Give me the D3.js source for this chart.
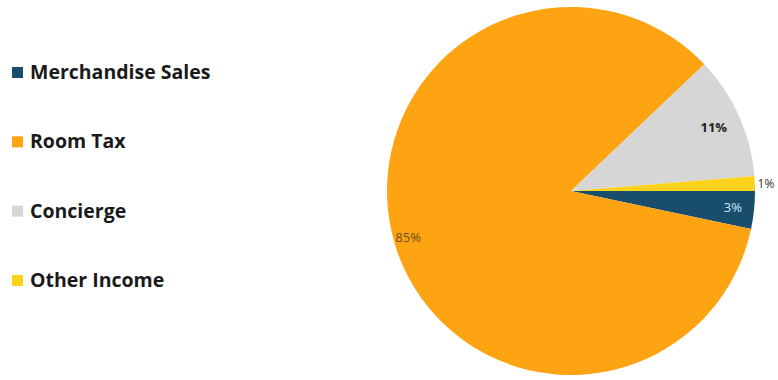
<!DOCTYPE html>
<html>
<head>
<meta charset="utf-8">
<script src="https://cdn.jsdelivr.net/npm/d3@7"></script>
<style>
  body { margin: 0; background: #fff; }
  svg { display: block; }
  text { font-family: "Open Sans", "Liberation Sans", sans-serif; }
</style>
</head>
<body>
<div id="app"></div>
<script>
// data
const categories = ["Merchandise Sales", "Room Tax", "Concierge", "Other Income"];
const values = [3.3, 84.6, 10.8, 1.3];
const colors = ["#184e6c", "#fea412", "#d6d6d6", "#fdd21c"];

const width = 778
    , height = 380
    , cx = 571
    , cy = 191
    , radius = 184;

const svg = d3.select("#app").append("svg")
    .attr("width", width)
    .attr("height", height);

const color = d3.scaleOrdinal().domain(categories).range(colors);

const data = categories.map((c, i) => ({ name: c, value: values[i] }));
const total = d3.sum(values);

// slices start at 3 o'clock and go clockwise
const pie = d3.pie()
    .sort(null)
    .value(d => d.value)
    .startAngle(Math.PI / 2)
    .endAngle(Math.PI / 2 + 2 * Math.PI);

const arc = d3.arc().innerRadius(0).outerRadius(radius);

const g = svg.append("g").attr("transform", `translate(${cx},${cy})`);

const arcs = pie(data);

g.selectAll("path")
    .data(arcs)
  .enter().append("path")
    .attr("d", arc)
    .attr("fill", d => color(d.data.name));

// label placement per slice: radius factor, colour, weight
const labelStyle = {
  "Merchandise Sales": { r: 0.885, fill: "#cfe6f5", weight: 400 },
  "Room Tax": { r: 0.92, fill: "#6b4a1a", weight: 400 },
  "Concierge": { r: 0.85, fill: "#222", weight: 700 },
  "Other Income": { r: 1.015, fill: "#333", weight: 400 }
};

const fmt = d => Math.round(d.value / total * 100) + "%";

g.selectAll("text.lbl")
    .data(arcs)
  .enter().append("text")
    .attr("class", "lbl")
    .attr("transform", d => {
      const a = (d.startAngle + d.endAngle) / 2
          , r = radius * labelStyle[d.data.name].r;
      return `translate(${Math.sin(a) * r},${-Math.cos(a) * r})`;
    })
    .attr("text-anchor", d => d.data.name === "Other Income" ? "start" : "middle")
    .attr("dy", "0.35em")
    .attr("font-size", d => d.data.name === "Other Income" ? 12 : 13)
    .attr("font-weight", d => labelStyle[d.data.name].weight)
    .attr("fill", d => labelStyle[d.data.name].fill)
    .text(d => fmt(d.data));

// legend
const legendY = d3.scalePoint().domain(categories).range([72, 280]);

const legend = svg.append("g")
    .selectAll("g")
      .data(categories)
    .enter().append("g")
      .attr("transform", d => `translate(12,${legendY(d)})`);

legend.append("rect")
    .attr("x", 0)
    .attr("y", -5)
    .attr("width", 11)
    .attr("height", 11)
    .attr("fill", d => color(d));

legend.append("text")
    .attr("x", 18)
    .attr("y", 7)
    .attr("font-size", 19.5)
    .attr("font-weight", 700)
    .attr("fill", "#1a1a1a")
    .text(d => d);
</script>
</body>
</html>
